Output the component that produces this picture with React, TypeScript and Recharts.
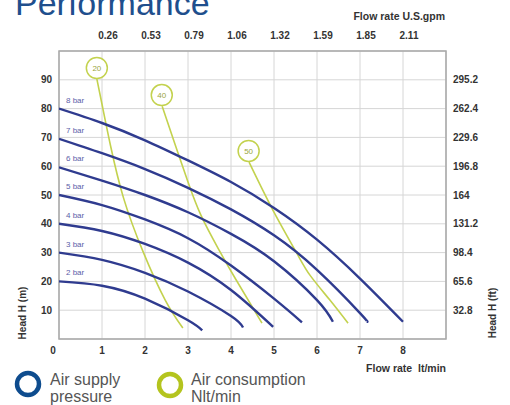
import React from 'react';
import { LineChart, Line, XAxis, YAxis, CartesianGrid, ReferenceArea, ReferenceDot, LabelList } from 'recharts';

// Flow rate lt/min ticks (bottom) and U.S. gpm labels (top)
const flowTicks = [0, 1, 2, 3, 4, 5, 6, 7, 8];
const gpmTicks = [1, 2, 3, 4, 5, 6, 7, 8];
const gpmLabels = ['0.26', '0.53', '0.79', '1.06', '1.32', '1.59', '1.85', '2.11'];
// Head ticks (m) and ft labels
const headTicks = [10, 20, 30, 40, 50, 60, 70, 80, 90];
const ftLabels = ['32.8', '65.6', '98.4', '131.2', '164', '196.8', '229.6', '262.4', '295.2'];

// Air supply pressure curves: [flow lt/min, head m]
const bar2: [number, number][] = [[0, 20], [1, 18.5], [2, 14], [3, 6.5], [3.33, 3]];
const bar3: [number, number][] = [[0, 30], [1, 27.5], [2, 23], [3, 16.5], [4, 8], [4.28, 4]];
const bar4: [number, number][] = [[0, 40], [1, 37.5], [2, 33], [3, 26.5], [4, 17], [4.98, 4.2]];
const bar5: [number, number][] = [[0, 50], [1, 46.5], [2, 41.5], [3, 35], [4, 25.5], [5, 14], [5.65, 5.8]];
const bar6: [number, number][] = [[0, 59.6], [1, 55], [2, 50], [3, 44], [4, 36.5], [5, 27], [6, 13.5], [6.37, 6]];
const bar7: [number, number][] = [[0, 69.5], [1, 64.5], [2, 59], [3, 52.5], [4, 45], [5, 36], [6, 24], [7, 9], [7.16, 6]];
const bar8: [number, number][] = [[0, 80], [1, 75], [2, 69], [3, 62], [4, 54.5], [5, 45.5], [6, 34.5], [7, 21], [8, 6]];
const barNames = ['2 bar', '3 bar', '4 bar', '5 bar', '6 bar', '7 bar', '8 bar'];

// Air consumption curves (Nlt/min)
const air20: [number, number][] = [[0.88, 90.3], [1.0, 81.5], [1.2, 67], [1.5, 49], [1.95, 30.5], [2.47, 13.5], [2.88, 3.8]];
const air40: [number, number][] = [[2.4, 80.8], [2.7, 67.5], [3.0, 54.5], [3.3, 43], [3.7, 31.5], [4.1, 21], [4.72, 5.5]];
const air50: [number, number][] = [[4.42, 61.4], [4.98, 44.6], [5.53, 29.8], [5.84, 22.1], [6.3, 13.5], [6.72, 5.5]];
const airNames = ['20', '40', '50'];
// circle tag positions of the air-consumption labels
const airTagX = [0.88, 2.39, 4.41];
const airTagY = [94.1, 84.7, 65.3];

const toPts = (a: [number, number][]) => a.map(([x, y]) => ({ x, y }));
const pressureSeries = [bar2, bar3, bar4, bar5, bar6, bar7, bar8].map(toPts);
const airSeries = [air20, air40, air50].map(toPts);

const BLUE = '#2f3b8f';
const GREEN = '#c3d24e';
const FONT = '"Liberation Sans", Arial, sans-serif';

const LeftTick = (p: any) => (
  <text x={p.x} y={p.y} dy={3.5} textAnchor="end" fontSize={10} fontWeight="bold" fill="#333" fontFamily={FONT}>
    {p.payload.value}
  </text>
);
const RightTick = (p: any) => (
  <text x={p.x} y={p.y} dy={3.5} textAnchor="start" fontSize={10} fontWeight="bold" fill="#333" fontFamily={FONT}>
    {ftLabels[headTicks.indexOf(p.payload.value)]}
  </text>
);
const BottomTick = (p: any) => (
  <text x={p.x + (p.payload.value === 0 ? -6 : 0)} y={p.y} dy={7} textAnchor="middle" fontSize={10} fontWeight="bold" fill="#333" fontFamily={FONT}>
    {p.payload.value}
  </text>
);
const TopTick = (p: any) => (
  <text x={p.x + 6} y={p.y} textAnchor="middle" fontSize={10} fontWeight="bold" fill="#333" fontFamily={FONT}>
    {gpmLabels[gpmTicks.indexOf(p.payload.value)]}
  </text>
);

export default function App() {
  return (
    <div style={{ position: 'absolute', left: 0, top: 0, width: 510, height: 405, background: '#fff' }}>
      <LineChart width={510} height={405} margin={{ top: 0, right: 0, bottom: 0, left: 0 }}>
        <XAxis xAxisId="b" type="number" dataKey="x" domain={[0, 9]} ticks={flowTicks} orientation="bottom" height={66}
          axisLine={false} tickLine={false} tickSize={0} tickMargin={8} tick={BottomTick} allowDataOverflow />
        <XAxis xAxisId="t" type="number" dataKey="x" domain={[0, 9]} ticks={gpmTicks} orientation="top" height={51}
          axisLine={false} tickLine={false} tickSize={0} tickMargin={12} tick={TopTick} allowDataOverflow />
        <YAxis yAxisId="l" type="number" domain={[0, 100]} ticks={headTicks} orientation="left" width={59}
          axisLine={false} tickLine={false} tickSize={0} tickMargin={7} tick={LeftTick} allowDataOverflow />
        <YAxis yAxisId="r" type="number" domain={[0, 100]} ticks={headTicks} orientation="right" width={64}
          axisLine={false} tickLine={false} tickSize={0} tickMargin={7} tick={RightTick} allowDataOverflow />
        <CartesianGrid xAxisId="b" yAxisId="l" stroke="#d6d6d6" strokeWidth={1} />
        <ReferenceArea xAxisId="b" yAxisId="l" x1={0} x2={9} y1={0} y2={100} fill="none" stroke="#a8a8a8" strokeWidth={1.5} ifOverflow="visible" />
        {airSeries.map((d, i) => (
          <Line key={'a' + i} xAxisId="b" yAxisId="l" data={d} dataKey="y" type="natural" stroke={GREEN} strokeWidth={1.6}
            dot={false} isAnimationActive={false} />
        ))}
        {airNames.map((n, i) => (
          <ReferenceDot key={'t' + i} xAxisId="b" yAxisId="l" x={airTagX[i]} y={airTagY[i]} r={10.5} fill="#fff" stroke={GREEN} strokeWidth={1.5}
            ifOverflow="visible"
            label={{ value: n, position: 'center', fontSize: 8, fill: '#9aa640', fontFamily: FONT }} />
        ))}
        {pressureSeries.map((d, i) => (
          <Line key={'p' + i} xAxisId="b" yAxisId="l" data={d} dataKey="y" type="natural" stroke={BLUE} strokeWidth={2.4}
            dot={false} isAnimationActive={false}>
            <LabelList dataKey="y" content={(p: any) => p.index === 0 ? (
              <text x={p.x + 7} y={p.y - 6} fontSize={8} fill="#5b5ea8" fontFamily={FONT}>{barNames[i]}</text>
            ) : null} />
          </Line>
        ))}
      </LineChart>
      <svg width={510} height={405} style={{ position: 'absolute', left: 0, top: 0, pointerEvents: 'none' }}>
        <text x={15} y={15} fontSize={34} fill="#1f4f8d" fontFamily={FONT} fontWeight={300}>Performance</text>
        <text x={445} y={20} textAnchor="end" fontSize={10.5} fontWeight="bold" fill="#333" fontFamily={FONT}>Flow rate U.S.gpm</text>
        <text x={446} y={372} textAnchor="end" fontSize={10.5} fontWeight="bold" fill="#333" fontFamily={FONT}>Flow rate&#160;&#160;lt/min</text>
        <text transform="translate(26,313) rotate(-90)" textAnchor="middle" fontSize={10} fontWeight="bold" fill="#333" fontFamily={FONT}>Head H (m)</text>
        <text transform="translate(496,313) rotate(-90)" textAnchor="middle" fontSize={10} fontWeight="bold" fill="#333" fontFamily={FONT}>Head H (ft)</text>
        <circle cx={28} cy={384} r={11} fill="none" stroke="#0e4c8e" strokeWidth={4.5} />
        <text x={50} y={385} fontSize={16} fill="#555" fontFamily={FONT}>Air supply</text>
        <text x={50} y={402} fontSize={16} fill="#555" fontFamily={FONT}>pressure</text>
        <circle cx={170} cy={385} r={11} fill="none" stroke="#b4c41e" strokeWidth={4.5} />
        <text x={191} y={385} fontSize={16} fill="#555" fontFamily={FONT}>Air consumption</text>
        <text x={191} y={402} fontSize={16} fill="#555" fontFamily={FONT}>Nlt/min</text>
      </svg>
    </div>
  );
}
